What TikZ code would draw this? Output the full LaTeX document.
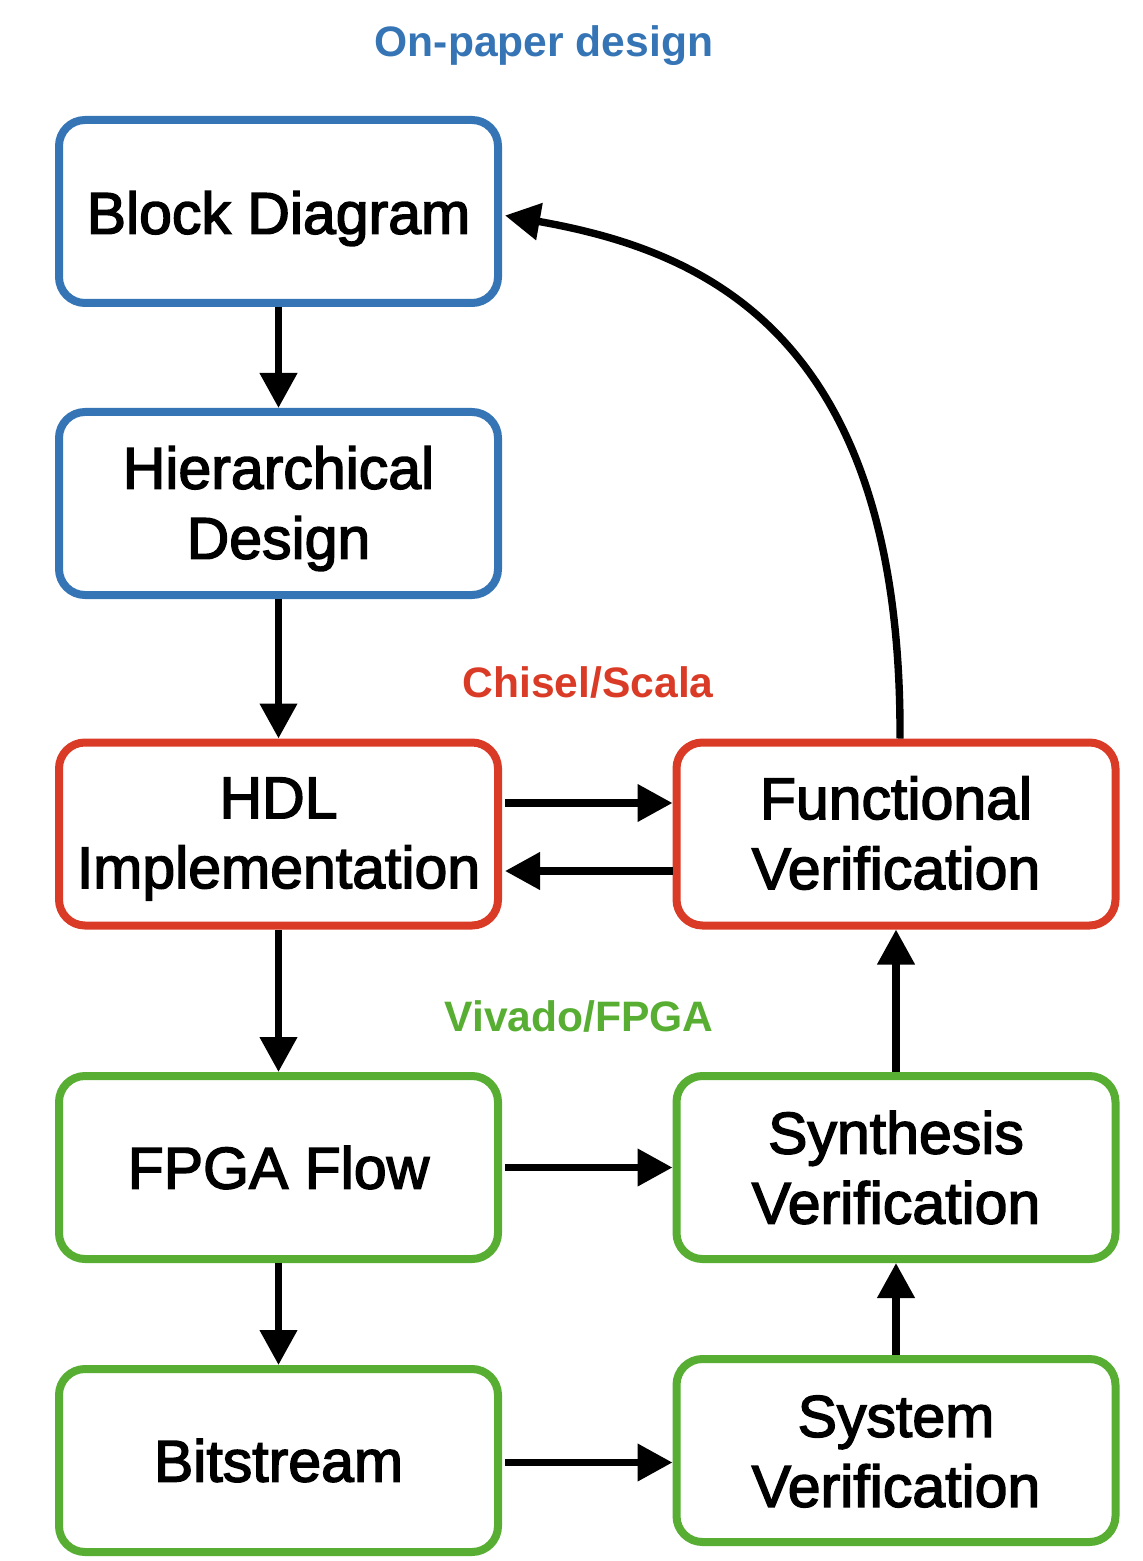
\documentclass[tikz,border=0pt]{standalone}
\usepackage{fontspec}
\setmainfont{Liberation Sans}
\newfontfamily\boxfont[FakeBold=2.5]{Liberation Sans}
\usetikzlibrary{arrows.meta,calc}
\definecolor{cblue}{HTML}{3574B5}
\definecolor{cred}{HTML}{DA3B26}
\definecolor{cgreen}{HTML}{57AE32}
\tikzset{
  box/.style={draw, line width=4pt, rounded corners=13pt, minimum width=219.5pt, minimum height=91.5pt,
    inner sep=0pt, fill=white},
  bluebox/.style={box, draw=cblue},
  redbox/.style={box, draw=cred},
  greenbox/.style={box, draw=cgreen},
  boxtext/.style={align=center, inner sep=0pt, font=\boxfont\fontsize{29.5pt}{35pt}\selectfont},
  arr/.style={line width=3.7pt, -{Triangle[length=17.5pt,width=18pt]}},
  grouplabel/.style={font=\fontsize{21.3pt}{25pt}\selectfont\bfseries, inner sep=0pt},
}
\begin{document}
\begin{tikzpicture}[x=0.5pt,y=-0.5pt]
\useasboundingbox (0,0) rectangle (1143,1561);
\node[bluebox] (bd) at (278.5,211.5) {};
\node[bluebox] (hd) at (278.5,503.5) {};
\node[redbox] (hdl) at (278.5,834) {};
\node[redbox] (fv) at (896,834) {};
\node[greenbox] (ff) at (278.5,1167.5) {};
\node[greenbox] (sy) at (896,1167.5) {};
\node[greenbox] (bs) at (278.5,1460.5) {};
\node[greenbox] (sv) at (896,1450.5) {};

\node[boxtext] (bdt) at ($(bd.center)+(0,7)$) {Block Diagram};
\node[boxtext] (hdt) at ($(hd.center)+(0,5)$) {Hierarchical\\Design};
\node[boxtext] (hdlt) at ($(hdl.center)+(0,5)$) {HDL\\Implementation};
\node[boxtext] (fvt) at ($(fv.center)+(0,-1)$) {Functional\\Verification};
\node[boxtext] (fft) at ($(ff.center)+(0,0)$) {FPGA Flow};
\node[boxtext] (syt) at ($(sy.center)+(0,0)$) {Synthesis\\Verification};
\node[boxtext] (bst) at ($(bs.center)+(0,0)$) {Bitstream};
\node[boxtext] (svt) at ($(sv.center)+(0,1)$) {System\\Verification};

\node[grouplabel, text=cblue, anchor=base] (l1) at (544,57) {On-paper design};
\node[grouplabel, text=cred, anchor=base east] (l2) at (714,697) {Chisel/Scala};
\node[grouplabel, text=cgreen, anchor=base east] (l3) at (714,1031) {Vivado/FPGA};

\draw[arr] (bd.south) -- (hd.north);
\draw[arr] (hd.south) -- (hdl.north);
\draw[arr] (hdl.south) -- (ff.north);
\draw[arr] (ff.south) -- (bs.north);

\coordinate (h1) at ($(hdl.east)+(3,-31)$);
\coordinate (h2) at ($(hdl.east)+(3,37)$);
\draw[arr] (h1) -- (h1 -| fv.west);
\draw[arr] (h2 -| fv.west) -- (h2);
\draw[arr] ($(ff.east)+(3,0)$) -- (ff.east -| sy.west);
\coordinate (b1) at ($(bs.east)+(3,2)$);
\draw[arr] (b1) -- (b1 -| sv.west);
\draw[arr] (sv.north) -- (sy.south);
\draw[arr] (sy.north) -- (fv.south);
\coordinate (c0) at ($(fv.north)+(4,0)$);
\coordinate (c1) at ($(bd.east)+(3,4)$);
\draw[arr] (c0) .. controls (902,330) and (700,250) .. (c1);
\end{tikzpicture}
\end{document}
